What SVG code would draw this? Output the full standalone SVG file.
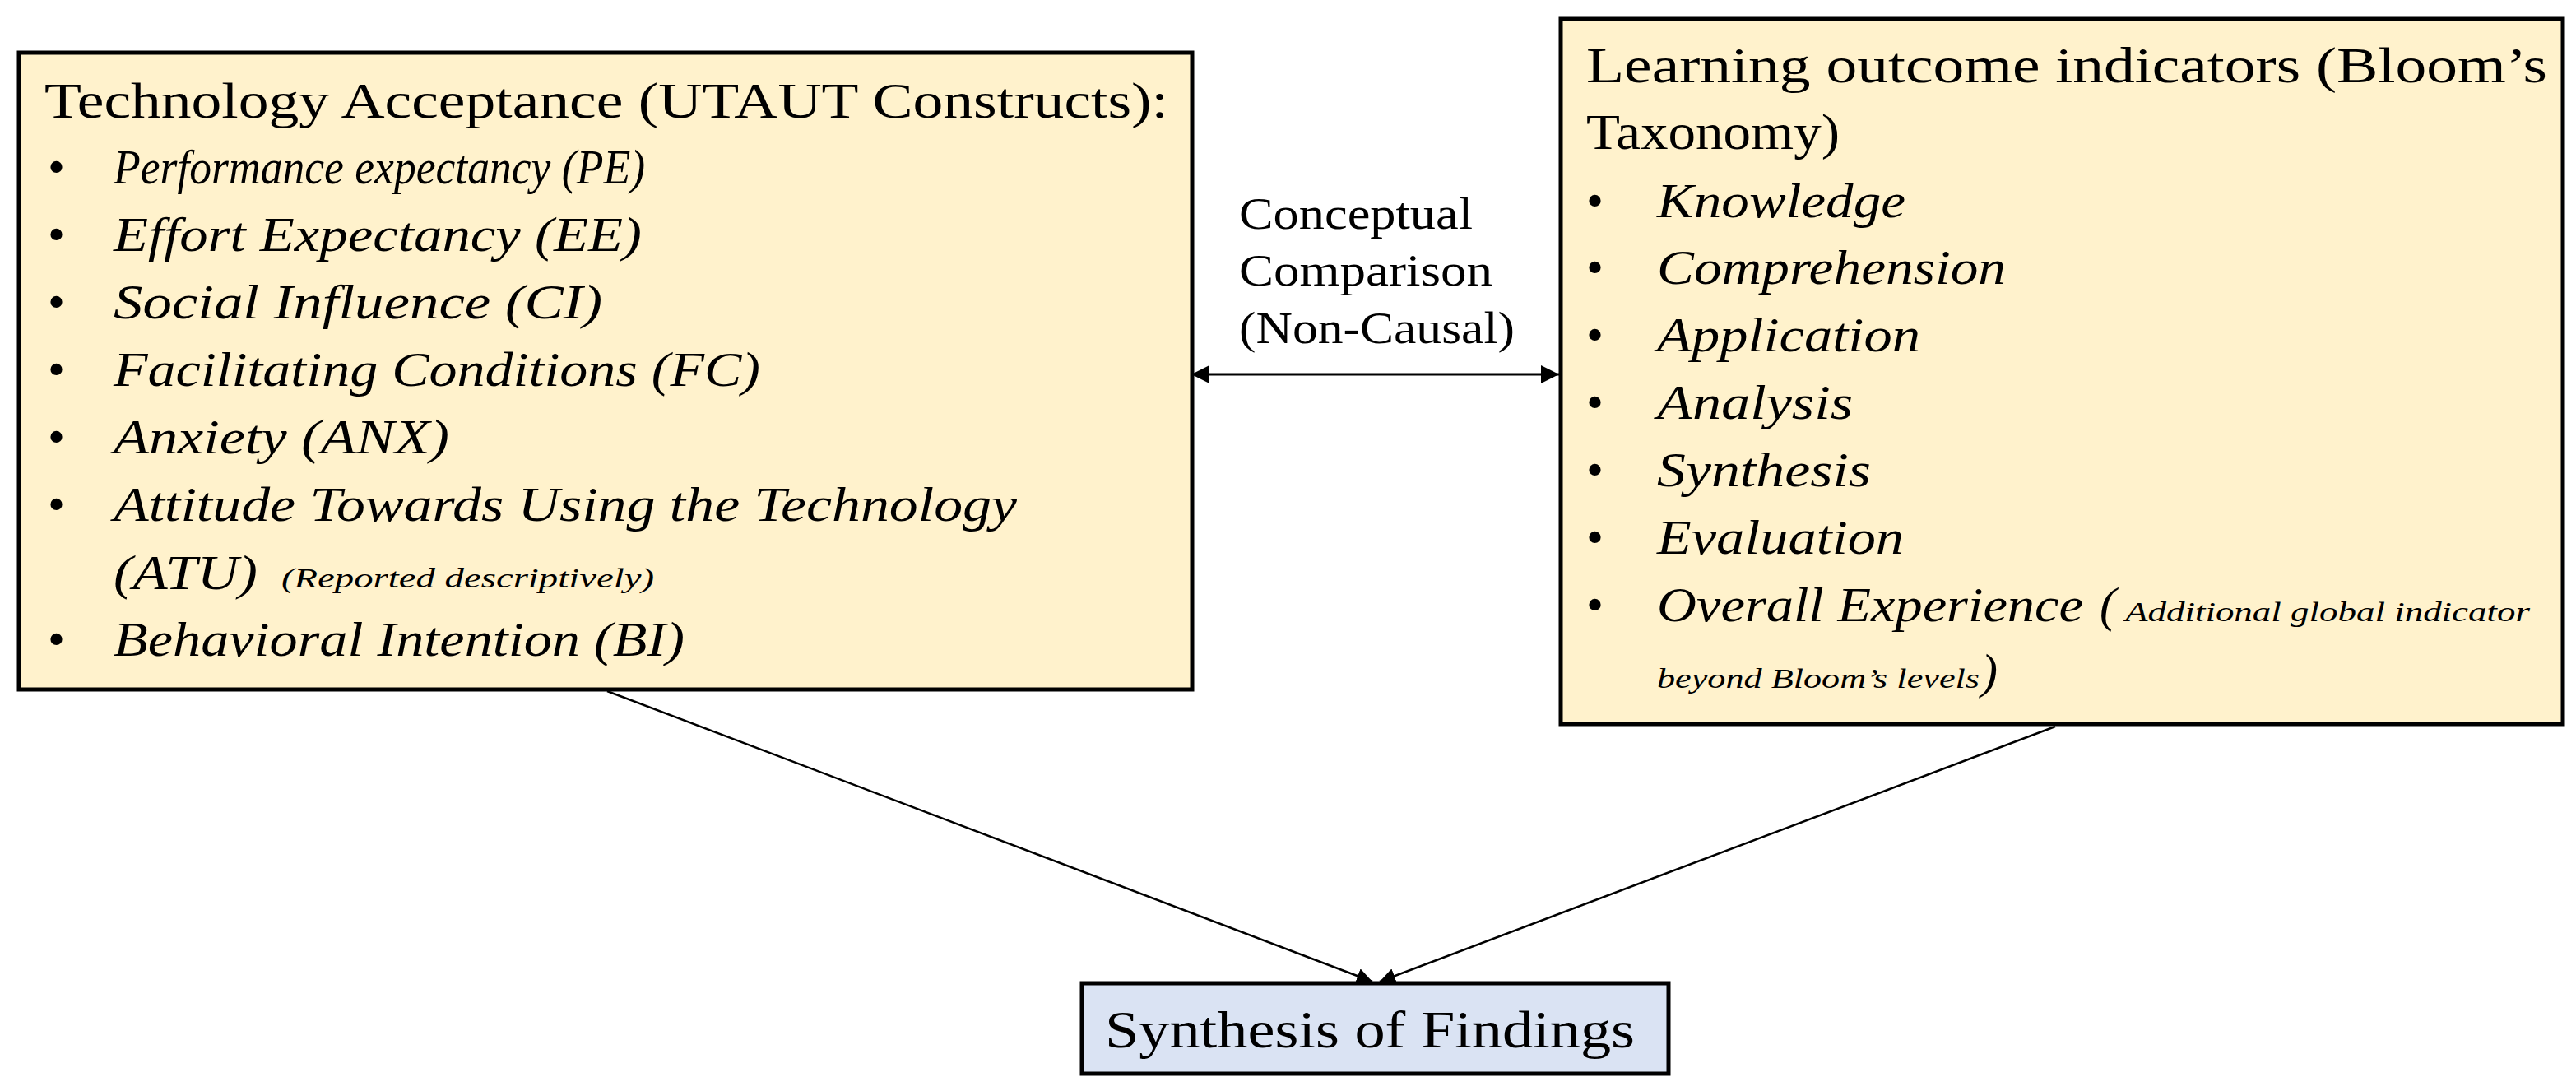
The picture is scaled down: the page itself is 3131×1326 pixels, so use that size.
<svg xmlns="http://www.w3.org/2000/svg" width="3131" height="1326" viewBox="0 0 3131 1326">
<style>
.box{fill:#FFF2CC;stroke:#000;stroke-width:5}
.box2{fill:#DAE3F3;stroke:#000;stroke-width:5}
.t{font-family:"Liberation Serif","DejaVu Serif",serif;fill:#000}
.h{font-size:62px}
.i{font-size:60px;font-style:italic}
.s{font-size:34px;font-style:italic}
.b{font-size:60px}
.c{font-size:54px}
.ln{stroke:#000;fill:none}
</style>
<defs>
<marker id="ah2" viewBox="0 0 10 10" refX="10" refY="5" markerWidth="22" markerHeight="22" markerUnits="userSpaceOnUse" orient="auto-start-reverse">
<path d="M0,0 L10,5 L0,10 z" fill="#000"/>
</marker>
<marker id="ah" viewBox="0 0 10 10" refX="10" refY="5" markerWidth="19" markerHeight="19" markerUnits="userSpaceOnUse" orient="auto">
<path d="M0,0 L10,5 L0,10 z" fill="#000"/>
</marker>
</defs>
<rect width="3131" height="1326" fill="#fff"/>
<g id="connectors">
<line class="ln" x1="1448" y1="455" x2="1895" y2="455" stroke-width="3" marker-start="url(#ah2)" marker-end="url(#ah2)"/>
<line class="ln" x1="738" y1="840" x2="1668" y2="1193" stroke-width="2.5" marker-end="url(#ah)"/>
<line class="ln" x1="2498" y1="883" x2="1677" y2="1193" stroke-width="2.5" marker-end="url(#ah)"/>
<g class="t c">
<text x="1506" y="278" textLength="284" lengthAdjust="spacingAndGlyphs">Conceptual</text>
<text x="1506" y="347" textLength="308" lengthAdjust="spacingAndGlyphs">Comparison</text>
<text x="1506" y="417" textLength="335" lengthAdjust="spacingAndGlyphs">(Non-Causal)</text>
</g>
</g>
<g id="utaut">
<rect class="box" x="23" y="64" width="1426" height="774"/>
<g class="t">
<text class="h" x="54" y="143" textLength="1366" lengthAdjust="spacingAndGlyphs">Technology Acceptance (UTAUT Constructs):</text>
<g class="b">
<text x="58" y="223">•</text><text x="58" y="305">•</text><text x="58" y="387">•</text><text x="58" y="469">•</text>
<text x="58" y="551">•</text><text x="58" y="633">•</text><text x="58" y="797">•</text>
</g>
<g class="i">
<text x="138" y="223" textLength="646" lengthAdjust="spacingAndGlyphs">Performance expectancy (PE)</text>
<text x="138" y="305" textLength="642" lengthAdjust="spacingAndGlyphs">Effort Expectancy (EE)</text>
<text x="138" y="387" textLength="594" lengthAdjust="spacingAndGlyphs">Social Influence (CI)</text>
<text x="138" y="469" textLength="786" lengthAdjust="spacingAndGlyphs">Facilitating Conditions (FC)</text>
<text x="138" y="551" textLength="408" lengthAdjust="spacingAndGlyphs">Anxiety (ANX)</text>
<text x="138" y="633" textLength="1098" lengthAdjust="spacingAndGlyphs">Attitude Towards Using the Technology</text>
<text x="138" y="716" textLength="175" lengthAdjust="spacingAndGlyphs">(ATU)</text>
<text x="138" y="797" textLength="694" lengthAdjust="spacingAndGlyphs">Behavioral Intention (BI)</text>
</g>
<text class="s" x="342" y="714" textLength="453" lengthAdjust="spacingAndGlyphs">(Reported descriptively)</text>
</g>
</g>
<g id="bloom">
<rect class="box" x="1897" y="23" width="1218" height="857"/>
<g class="t">
<text class="h" x="1928" y="100" textLength="1168" lengthAdjust="spacingAndGlyphs">Learning outcome indicators (Bloom’s</text>
<text class="h" x="1928" y="181" textLength="308" lengthAdjust="spacingAndGlyphs">Taxonomy)</text>
<g class="b">
<text x="1928" y="264">•</text><text x="1928" y="345">•</text><text x="1928" y="427">•</text><text x="1928" y="509">•</text>
<text x="1928" y="591">•</text><text x="1928" y="673">•</text><text x="1928" y="755">•</text>
</g>
<g class="i">
<text x="2014" y="264" textLength="302" lengthAdjust="spacingAndGlyphs">Knowledge</text>
<text x="2014" y="345" textLength="424" lengthAdjust="spacingAndGlyphs">Comprehension</text>
<text x="2014" y="427" textLength="320" lengthAdjust="spacingAndGlyphs">Application</text>
<text x="2014" y="509" textLength="238" lengthAdjust="spacingAndGlyphs">Analysis</text>
<text x="2014" y="591" textLength="260" lengthAdjust="spacingAndGlyphs">Synthesis</text>
<text x="2014" y="673" textLength="300" lengthAdjust="spacingAndGlyphs">Evaluation</text>
<text x="2014" y="755" textLength="518" lengthAdjust="spacingAndGlyphs">Overall Experience</text>
<text x="2552" y="755">(</text>
<text x="2408" y="836">)</text>
</g>
<text class="s" x="2583" y="755" textLength="492" lengthAdjust="spacingAndGlyphs">Additional global indicator</text>
<text class="s" x="2014" y="836" textLength="392" lengthAdjust="spacingAndGlyphs">beyond Bloom’s levels</text>
</g>
</g>
<g id="synthesis">
<rect class="box2" x="1315" y="1195" width="713" height="110"/>
<text class="t" x="1343" y="1273" textLength="644" lengthAdjust="spacingAndGlyphs" style="font-size:64px">Synthesis of Findings</text>
</g>
</svg>
